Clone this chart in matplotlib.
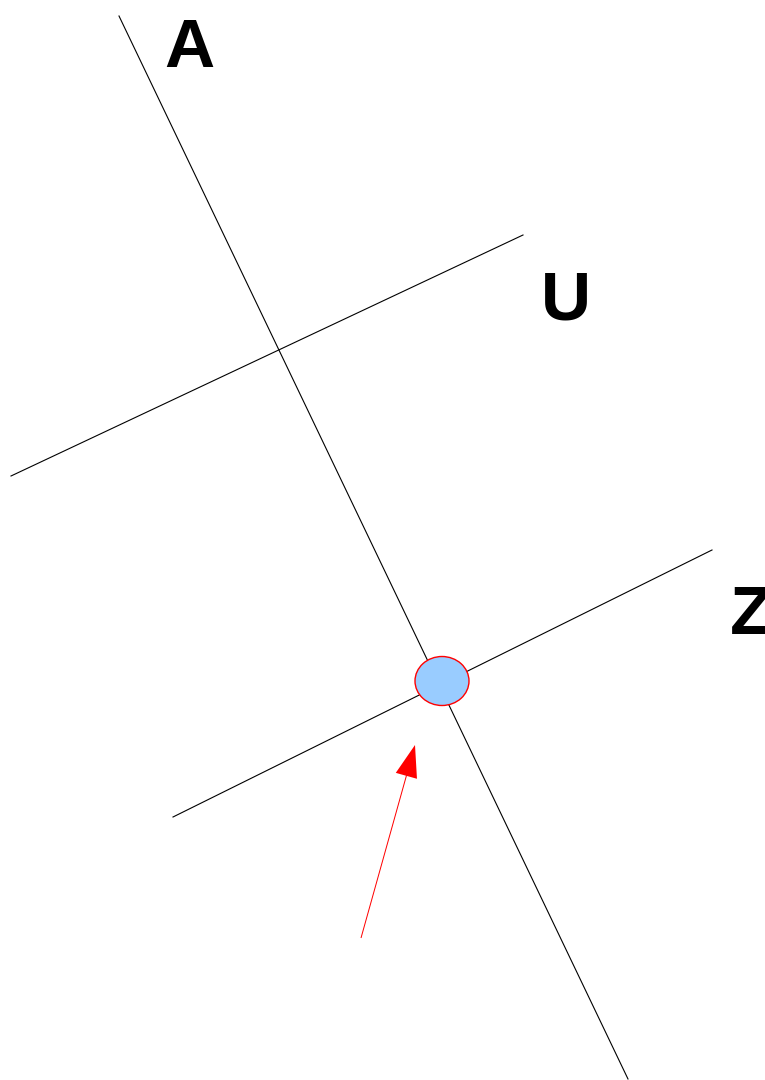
import matplotlib.pyplot as plt
from matplotlib.patches import Ellipse, FancyArrow

# pixel coordinates of the drawing (y grows downward)
line_a = [(119, 16), (628, 1079)]
line_u = [(11, 476), (523, 235)]
line_z = [(173, 817), (712, 550)]
labels = ["A", "U", "Z"]
label_pos = [(164, 67), (541, 319), (730, 634)]
point_xy = (442, 681)
point_size = (54, 49)
arrow_tail = (361, 938)
arrow_tip = (415, 745)

fig = plt.figure(figsize=(7.65, 10.8), dpi=100)
ax = fig.add_axes([0, 0, 1, 1])
ax.set_xlim(0, 765)
ax.set_ylim(1080, 0)
ax.axis('off')

for ln in (line_a, line_u, line_z):
    xs = [p[0] for p in ln]
    ys = [p[1] for p in ln]
    ax.plot(xs, ys, color='black', lw=0.8)

# the Z sits at the right edge and is cut off there, as in the reference
for lab, (x, y) in zip(labels, label_pos):
    ax.text(x, y, lab, fontsize=50, fontweight='bold', family='Liberation Sans',
            ha='left', va='baseline', color='black')

ax.add_patch(Ellipse(point_xy, point_size[0], point_size[1],
                     facecolor='#99ccff', edgecolor='#ff0000', lw=1, zorder=3))

dx = arrow_tip[0] - arrow_tail[0]
dy = arrow_tip[1] - arrow_tail[1]
ax.add_patch(FancyArrow(arrow_tail[0], arrow_tail[1], dx, dy, width=1,
                        head_width=22, head_length=32, length_includes_head=True,
                        color='#ff0000', lw=0))

fig.savefig('out.png', dpi=100)
